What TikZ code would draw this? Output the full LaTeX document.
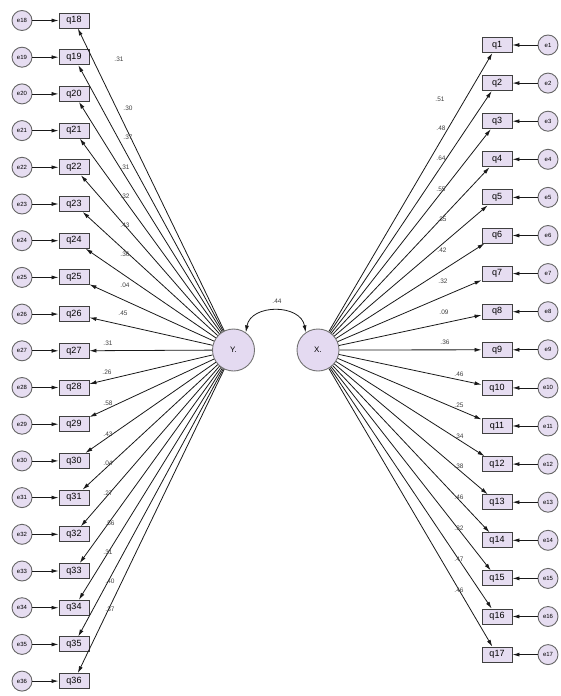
\documentclass[tikz,border=0pt]{standalone}
\usepackage{fontspec}
\setmainfont{Liberation Sans}
\usepackage{tikz}
\usetikzlibrary{arrows.meta}
\definecolor{boxlilac}{HTML}{E6DDF1}
\definecolor{latlilac}{HTML}{E4DAF1}

\begin{document}
\begin{tikzpicture}[x=1pt,y=1pt,
 obs/.style={rectangle,draw=black!75,line width=0.9pt,fill=boxlilac,minimum width=30pt,minimum height=15pt,inner sep=0pt,font=\fontsize{9}{9}\selectfont},
 err/.style={circle,draw=black!60,line width=0.9pt,fill=boxlilac,minimum size=20pt,inner sep=0pt,font=\fontsize{6}{6}\selectfont},
 latent/.style={circle,draw=black!55,line width=0.9pt,fill=latlilac,minimum size=42pt,inner sep=0pt,font=\fontsize{8}{8}\selectfont},
 load/.style={draw=black!90,line width=0.8pt,-{Latex[length=7pt,width=4pt]}},
 corr/.style={draw=black!90,line width=0.8pt,{Latex[length=7pt,width=4pt]}-{Latex[length=7pt,width=4pt]}},
 coef/.style={font=\fontsize{6.5}{6.5}\selectfont,text=black!75}]
\useasboundingbox (0,0) rectangle (560,-696);

% Left block: indicators q18--q36 with their error terms.
\foreach \i in {18,...,36} {
  \pgfmathsetmacro\yy{-(20.5+36.7*(\i-18))}
  \node[obs] (q\i) at (74,\yy) {q\i};
  \node[err] (e\i) at (22,\yy) {e\i};
  \draw[load] (e\i) -- (q\i);
}
% Right block: indicators q1--q17 with their error terms.
\foreach \i in {1,...,17} {
  \pgfmathsetmacro\yy{-(45+38.1*(\i-1))}
  \node[obs] (q\i) at (497,\yy) {q\i};
  \node[err] (e\i) at (548,\yy) {e\i};
  \draw[load] (e\i) -- (q\i);
}

% The two latent factors and their covariance.
\node[latent] (Y) at (233.5,-350) {Y.};
\node[latent] (X) at (318,-350) {X.};
\draw[corr] (Y.55) to[out=80,in=100,looseness=1.25] (X.125);
\node[coef] (r) at (277,-301) {.44};

% Loadings.
\foreach \i in {18,...,36} \draw[load] (Y) -- (q\i);
\foreach \i in {1,...,17} \draw[load] (X) -- (q\i);

% Loading estimates, placed as in the output.
\foreach \x/\y/\val in {119/59/.31,128/108/.30,128/137/.37,125/167/.31,125/196/.32,125/225/.43,125/254/.36,125/285/.04,123/313/.45,
  108/343/.31,107/372/.26,108/403/.58,108/434/.43,108/463/.04,108/493/.27,110/523/.56,108/552/.31,110/581/.40,110/609/.37}
  \node[coef] at (\x,-\y) {\val};
\foreach \x/\y/\val in {440/99/.51,441/128/.48,441/158/.64,441/189/.55,442/219/.35,442/250/.42,443/281/.32,444/312/.09,445/342/.36,
  459/374/.46,459/405/.25,459/436/.34,459/466/.38,459/497/.46,459/528/.32,459/559/.47,459/590/.46}
  \node[coef] at (\x,-\y) {\val};
\end{tikzpicture}
\end{document}
